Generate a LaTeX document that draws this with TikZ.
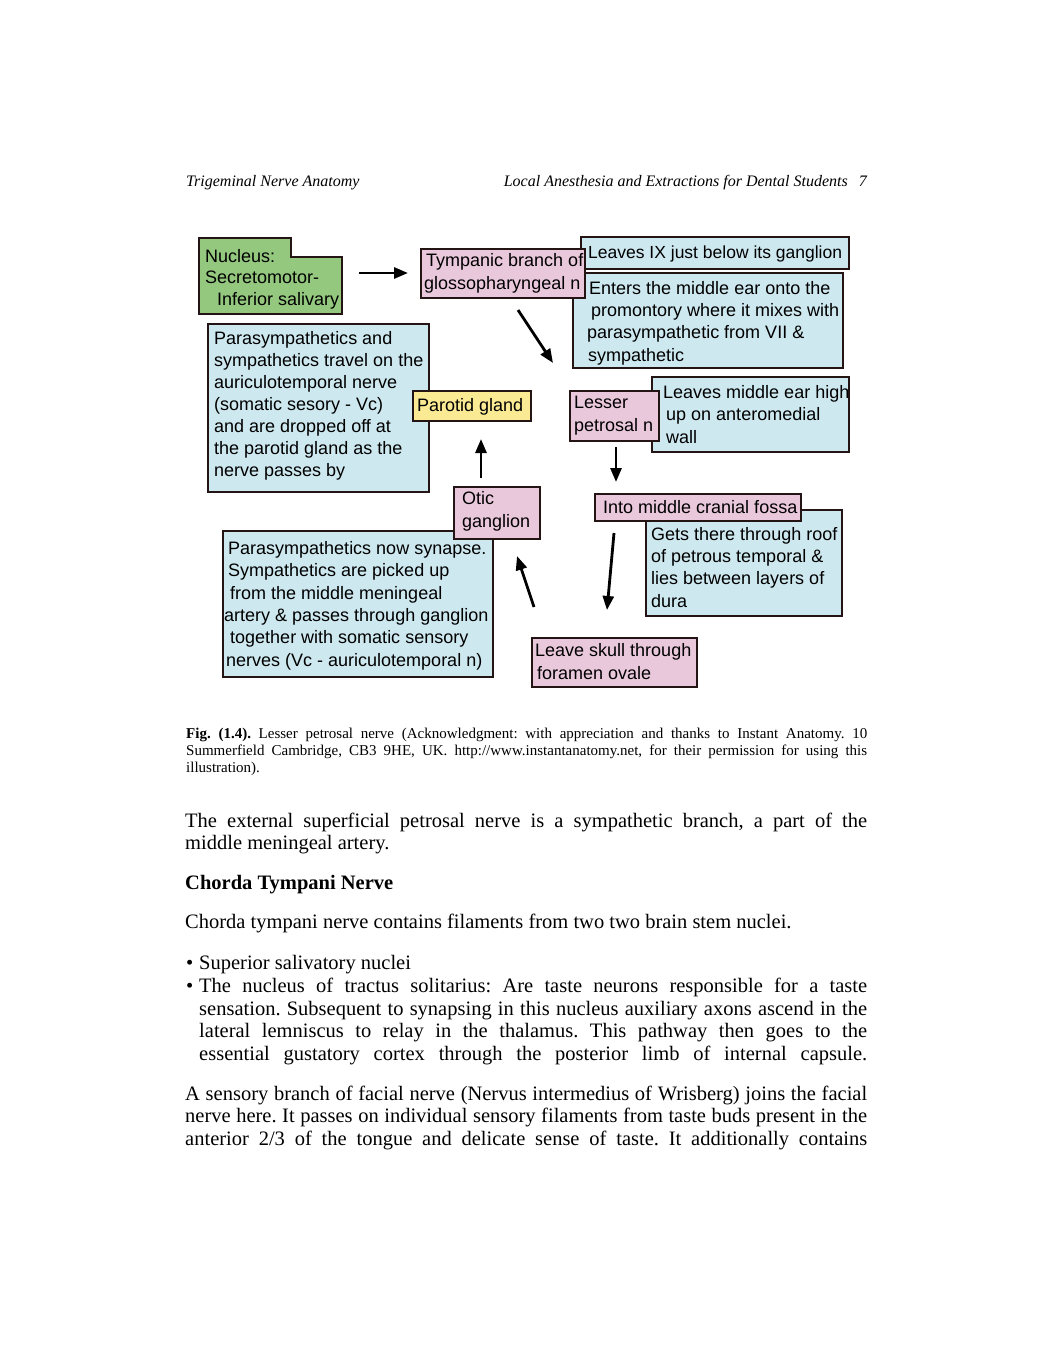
\documentclass[tikz,border=0pt]{standalone}
\usepackage{fontspec}
\setmainfont{Liberation Serif}
\newfontfamily\dia{Liberation Sans}
\usetikzlibrary{arrows.meta}
\definecolor{cblue}{RGB}{206,232,240}
\definecolor{cpink}{RGB}{234,200,220}
\definecolor{cyel}{RGB}{250,234,148}
\definecolor{cgreen}{RGB}{148,200,126}
\definecolor{edge}{RGB}{36,20,20}
\newcommand\jline[2]{\makebox[#1pt][s]{#2}}
\frenchspacing
\tikzset{
  boxb/.style={draw=edge, line width=2pt, anchor=north west, inner sep=0pt},
  blueb/.style={boxb, fill=cblue},
  pinkb/.style={boxb, fill=cpink},
  yelb/.style={boxb, fill=cyel},
  dtxt/.style={font=\dia\fontsize{18}{22.3}\selectfont, align=left, inner sep=0pt, anchor=base west},
  arr/.style={line width=2.8pt, -{Triangle[length=14pt,width=11pt]}},
  bt/.style={font=\fontsize{20.5}{22.5}\selectfont, inner sep=0pt, anchor=base west},
  capt/.style={font=\fontsize{15}{17}\selectfont, inner sep=0pt, anchor=base west},
  hdr/.style={font=\itshape\fontsize{16}{18}\selectfont, inner sep=0pt, anchor=base west},
}
\begin{document}
\begin{tikzpicture}[x=1pt,y=-1pt]
\useasboundingbox (0,0) rectangle (1052,1362);
\fill[white] (0,0) rectangle (1052,1362);

% header
\node[hdr] (hleft) at (186,186) {Trigeminal Nerve Anatomy};
\node[hdr, anchor=base east] (hright) at (867,186) {Local Anesthesia and Extractions for Dental Students\hspace{11pt}7};

% ---- diagram: blue boxes
\node[blueb, minimum width=268, minimum height=32] (leavesIX) at (580,236) {};
\node[blueb, minimum width=270, minimum height=95] (enters) at (572,272) {};
\node[blueb, minimum width=197, minimum height=75] (leavesMid) at (651,376) {};
\node[blueb, minimum width=196, minimum height=106] (gets) at (645,509) {};
\node[blueb, minimum width=270, minimum height=146] (synapse) at (222,530) {};
\node[blueb, minimum width=221, minimum height=168] (parasym) at (207,323) {};

% (base anchor = baseline of the last line)
\node[dtxt, font=\dia\fontsize{17.5}{22.3}\selectfont] (leavesIXT) at (588,258) {Leaves IX just below its ganglion};
\node[dtxt] (entersT) at (587,361) {\hspace*{2pt}Enters the middle ear onto the\\ \hspace*{4pt}promontory where it mixes with\\ parasympathetic from VII \&\\ \hspace*{1pt}sympathetic};
\node[dtxt] (leavesMidT) at (663,443) {Leaves middle ear high\\ \hspace*{3pt}up on anteromedial\\ \hspace*{3pt}wall};
\node[dtxt] (getsT) at (651,607) {Gets there through roof\\ of petrous temporal \&\\ lies between layers of\\ dura};
\node[dtxt] (synapseT) at (224,666) {\hspace*{4pt}Parasympathetics now synapse.\\ \hspace*{4pt}Sympathetics are picked up\\ \hspace*{6pt}from the middle meningeal\\ artery \& passes through ganglion\\ \hspace*{6pt}together with somatic sensory\\ \hspace*{2pt}nerves (Vc - auriculotemporal n)};
\node[dtxt, font=\dia\fontsize{18}{22}\selectfont] (parasymT) at (214,476) {Parasympathetics and\\ sympathetics travel on the\\ auriculotemporal nerve\\ (somatic sesory - Vc)\\ and are dropped off at\\ the parotid gland as the\\ nerve passes by};

% green nucleus
\draw[draw=edge, line width=2pt, fill=cgreen] (199,238) -- (291,238) -- (291,257) -- (342,257) -- (342,314) -- (199,314) -- cycle;
\node[dtxt, font=\dia\fontsize{18}{21.5}\selectfont] (nucleus) at (205,305) {Nucleus:\\ Secretomotor-\\ \hspace*{12pt}Inferior salivary};

% pink / yellow boxes
\node[pinkb, minimum width=164, minimum height=49] (tymp) at (420,248) {};
\node[pinkb, minimum width=89, minimum height=50] (lesser) at (569,390) {};
\node[pinkb, minimum width=206, minimum height=27] (into) at (594,493) {};
\node[pinkb, minimum width=165, minimum height=49] (leave) at (531,637) {};
\node[pinkb, minimum width=86, minimum height=52] (otic) at (453,486) {};
\node[yelb, minimum width=118, minimum height=30] (parotid) at (412,390) {};

\node[dtxt] (tympT) at (424,289) {\hspace*{2pt}Tympanic branch of\\ glossopharyngeal n};
\node[dtxt] (lesserT) at (574,431) {Lesser\\ petrosal n};
\node[dtxt] (intoT) at (603,513) {Into middle cranial fossa};
\node[dtxt] (leaveT) at (535,679) {Leave skull through\\ \hspace*{2pt}foramen ovale};
\node[dtxt] (oticT) at (462,527) {Otic\\ ganglion};
\node[dtxt] (parotidT) at (417,411) {Parotid gland};

% arrows
\coordinate (a1s) at (359,273); \coordinate (a1e) at (408,273);
\coordinate (a2s) at (518,310); \coordinate (a2e) at (553,363);
\coordinate (a3s) at (616,447); \coordinate (a3e) at (616,482);
\coordinate (a4s) at (614,533); \coordinate (a4e) at (607,610);
\coordinate (a5s) at (534,607); \coordinate (a5e) at (517,556);
\coordinate (a6s) at (481,478); \coordinate (a6e) at (481,439);
\draw[arr] (a1s) -- (a1e);
\draw[arr] (a2s) -- (a2e);
\draw[arr] (a3s) -- (a3e);
\draw[arr] (a4s) -- (a4e);
\draw[arr] (a5s) -- (a5e);
\draw[arr] (a6s) -- (a6e);

% caption
\node[capt] (cap1) at (186,738) {\jline{681}{\textbf{Fig. (1.4).} Lesser petrosal nerve (Acknowledgment: with appreciation and thanks to Instant Anatomy. 10}};
\node[capt] (cap2) at (186,755) {\jline{681}{Summerfield Cambridge, CB3 9HE, UK. http://www.instantanatomy.net, for their permission for using this}};
\node[capt] (cap3) at (186,772) {illustration).};

% body
\node[bt] (b1) at (185,827) {\jline{682}{The external superficial petrosal nerve is a sympathetic branch, a part of the}};
\node[bt] (b2) at (185,849) {middle meningeal artery.};
\node[bt, font=\bfseries\fontsize{20.5}{22.5}\selectfont] (h1) at (185,889) {Chorda Tympani Nerve};
\node[bt] (b3) at (185,928) {Chorda tympani nerve contains filaments from two two brain stem nuclei.};
\node[bt] (u1) at (186,969) {\textbullet};
\node[bt] (b4) at (199,969) {Superior salivatory nuclei};
\node[bt] (u2) at (186,992) {\textbullet};
\node[bt] (b5) at (199,992) {\jline{668}{The nucleus of tractus solitarius: Are taste neurons responsible for a taste}};
\node[bt] (b6) at (199,1015) {\jline{668}{sensation. Subsequent to synapsing in this nucleus auxiliary axons ascend in the}};
\node[bt] (b7) at (199,1037) {\jline{668}{lateral lemniscus to relay in the thalamus. This pathway then goes to the}};
\node[bt] (b8) at (199,1060) {\jline{668}{essential gustatory cortex through the posterior limb of internal capsule.}};
\node[bt] (b9) at (185,1100) {\jline{682}{A sensory branch of facial nerve (Nervus intermedius of Wrisberg) joins the facial}};
\node[bt] (b10) at (185,1122) {\jline{682}{nerve here. It passes on individual sensory filaments from taste buds present in the}};
\node[bt] (b11) at (185,1145) {\jline{682}{anterior 2/3 of the tongue and delicate sense of taste. It additionally contains}};
\end{tikzpicture}
\end{document}
